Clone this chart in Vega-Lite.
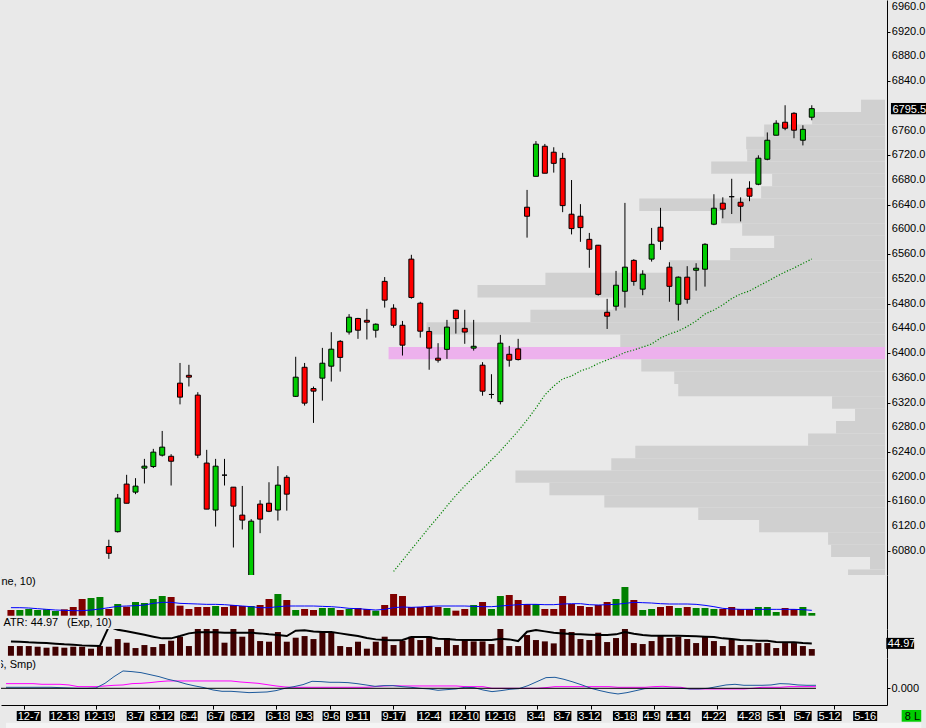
{
  "$schema": "https://vega.github.io/schema/vega-lite/v6.json",
  "padding": 0,
  "background": "#e9e9e9",
  "config": {
    "font": "Liberation Sans",
    "view": {"stroke": null},
    "axis": {"labelFont": "Liberation Sans", "labelFontSize": 11, "labelColor": "black", "domainColor": "black", "tickColor": "black", "grid": false}
  },
  "spacing": 0,
  "bounds": "flush",
  "datasets": {
    "bars": [
      {"i":0,"up":false,"vol":170,"vma":240,"tr":35.3,"atr":52.3,"b":0.006,"m":0.028},
      {"i":1,"up":true,"vol":170,"vma":240,"tr":35.3,"atr":51.1,"b":0.006,"m":0.028},
      {"i":2,"up":true,"vol":200,"vma":230,"tr":35.3,"atr":48.7,"b":0.006,"m":0.028},
      {"i":3,"up":true,"vol":170,"vma":210,"tr":32.9,"atr":47.5,"b":0.006,"m":0.028},
      {"i":4,"up":true,"vol":190,"vma":190,"tr":29.2,"atr":46.2,"b":0.006,"m":0.024},
      {"i":5,"up":true,"vol":140,"vma":170,"tr":32.9,"atr":43.8,"b":0.006,"m":0.024},
      {"i":6,"up":false,"vol":190,"vma":160,"tr":29.2,"atr":41.4,"b":0.004,"m":0.024},
      {"i":7,"up":false,"vol":260,"vma":150,"tr":32.9,"atr":40.2,"b":0.002,"m":0.02},
      {"i":8,"up":false,"vol":500,"vma":150,"tr":32.9,"atr":37.7,"b":0,"m":0.01},
      {"i":9,"up":true,"vol":530,"vma":170,"tr":25.6,"atr":36.5,"b":0,"m":0.01},
      {"i":10,"up":true,"vol":560,"vma":200,"tr":35.3,"atr":35.3,"b":0.002,"m":0.01},
      {"i":11,"up":false,"vol":200,"vma":240,"tr":32.9,"atr":106,"b":0.03,"m":0.014,"o":6087,"h":6098,"l":6067,"c":6076},
      {"i":12,"up":true,"vol":350,"vma":280,"tr":60.8,"atr":95,"b":0.07,"m":0.018,"o":6111,"h":6172,"l":6109.6,"c":6165.3},
      {"i":13,"up":false,"vol":270,"vma":290,"tr":47.5,"atr":89.6,"b":0.104,"m":0.02,"o":6188,"h":6203,"l":6157,"c":6157},
      {"i":14,"up":true,"vol":410,"vma":300,"tr":28,"atr":82.7,"b":0.1,"m":0.028,"o":6175,"h":6197.6,"l":6171.7,"c":6184.7},
      {"i":15,"up":true,"vol":380,"vma":320,"tr":38.9,"atr":76.2,"b":0.094,"m":0.03,"o":6213.8,"h":6228.8,"l":6189,"c":6217},
      {"i":16,"up":true,"vol":500,"vma":370,"tr":31.6,"atr":69.4,"b":0.082,"m":0.034,"o":6216.4,"h":6245,"l":6214,"c":6239.7},
      {"i":17,"up":true,"vol":590,"vma":400,"tr":42.6,"atr":63.3,"b":0.07,"m":0.04,"o":6234.8,"h":6274,"l":6232.6,"c":6247.8},
      {"i":18,"up":false,"vol":560,"vma":400,"tr":54.8,"atr":63.3,"b":0.054,"m":0.044,"o":6233,"h":6236.4,"l":6185.7,"c":6225},
      {"i":19,"up":false,"vol":300,"vma":370,"tr":69.4,"atr":71.8,"b":0.042,"m":0.044,"o":6351.3,"h":6384,"l":6317,"c":6328.7},
      {"i":20,"up":false,"vol":200,"vma":360,"tr":35.3,"atr":81.5,"b":0.026,"m":0.044,"o":6364,"h":6381,"l":6346,"c":6361},
      {"i":21,"up":false,"vol":260,"vma":350,"tr":131,"atr":85.2,"b":0.014,"m":0.044,"o":6332,"h":6336.7,"l":6230,"c":6234.8},
      {"i":22,"up":false,"vol":260,"vma":340,"tr":100,"atr":85.2,"b":0.004,"m":0.044,"o":6222,"h":6243.4,"l":6147.5,"c":6147.5},
      {"i":23,"up":true,"vol":290,"vma":340,"tr":110,"atr":85.2,"b":-0.01,"m":0.044,"o":6146,"h":6228.8,"l":6119.3,"c":6217},
      {"i":24,"up":false,"vol":260,"vma":330,"tr":47.5,"atr":84,"b":-0.018,"m":0.044,"o":6202.5,"h":6228.8,"l":6185.7,"c":6202.5},
      {"i":25,"up":false,"vol":320,"vma":310,"tr":117,"atr":84,"b":-0.018,"m":0.044,"o":6183,"h":6183,"l":6085.4,"c":6152.3},
      {"i":26,"up":false,"vol":290,"vma":290,"tr":69.4,"atr":84,"b":-0.022,"m":0.038,"o":6137.8,"h":6185,"l":6114.5,"c":6129.7},
      {"i":27,"up":true,"vol":290,"vma":270,"tr":105,"atr":84,"b":-0.026,"m":0.034,"o":6030,"h":6131.3,"l":6020,"c":6128},
      {"i":28,"up":false,"vol":320,"vma":240,"tr":53.5,"atr":81.5,"b":-0.024,"m":0.03,"o":6155.6,"h":6162,"l":6108.6,"c":6131.3},
      {"i":29,"up":false,"vol":500,"vma":240,"tr":51.1,"atr":77.9,"b":-0.022,"m":0.022,"o":6157,"h":6191,"l":6142.6,"c":6144},
      {"i":30,"up":true,"vol":650,"vma":270,"tr":86.4,"atr":75.4,"b":-0.014,"m":0.014,"o":6146,"h":6217,"l":6129,"c":6186.3},
      {"i":31,"up":false,"vol":470,"vma":290,"tr":51.1,"atr":71.8,"b":0,"m":0.008,"o":6199,"h":6202.5,"l":6145,"c":6171.7},
      {"i":32,"up":true,"vol":170,"vma":290,"tr":65.7,"atr":91.3,"b":0.01,"m":0.006,"o":6330,"h":6394,"l":6329,"c":6361},
      {"i":33,"up":false,"vol":200,"vma":290,"tr":71.8,"atr":92.5,"b":0.022,"m":0.006,"o":6377,"h":6384,"l":6315,"c":6319},
      {"i":34,"up":false,"vol":170,"vma":290,"tr":60.8,"atr":88.8,"b":0.042,"m":0.006,"o":6342.6,"h":6345.8,"l":6287,"c":6338.4},
      {"i":35,"up":true,"vol":230,"vma":280,"tr":86.4,"atr":86.4,"b":0.04,"m":0.006,"o":6359.4,"h":6408.4,"l":6323,"c":6383.6},
      {"i":36,"up":true,"vol":230,"vma":270,"tr":84,"atr":86.4,"b":0.036,"m":0.006,"o":6378.8,"h":6433.8,"l":6353.9,"c":6406.3},
      {"i":37,"up":false,"vol":170,"vma":250,"tr":35.3,"atr":81.5,"b":0.036,"m":0.006,"o":6419,"h":6421,"l":6370,"c":6393},
      {"i":38,"up":true,"vol":200,"vma":220,"tr":31.6,"atr":76.7,"b":0.034,"m":0.006,"o":6434,"h":6463,"l":6430,"c":6458},
      {"i":39,"up":false,"vol":230,"vma":210,"tr":51.1,"atr":71.8,"b":0.028,"m":0.006,"o":6456,"h":6457,"l":6423,"c":6437},
      {"i":40,"up":false,"vol":200,"vma":190,"tr":25.6,"atr":64.5,"b":0.02,"m":0.006,"o":6453,"h":6471.5,"l":6422,"c":6450},
      {"i":41,"up":true,"vol":150,"vma":170,"tr":51.1,"atr":59.6,"b":0.012,"m":0.01,"o":6437,"h":6448,"l":6425,"c":6446.7},
      {"i":42,"up":false,"vol":320,"vma":190,"tr":69.4,"atr":57.2,"b":0.016,"m":0.014,"o":6516,"h":6523,"l":6473.6,"c":6485.6},
      {"i":43,"up":false,"vol":650,"vma":240,"tr":38.9,"atr":56,"b":0.016,"m":0.016,"o":6472.6,"h":6479,"l":6441,"c":6445,"ma":6046.6},
      {"i":44,"up":false,"vol":590,"vma":260,"tr":54.8,"atr":57.2,"b":0.01,"m":0.014,"o":6445,"h":6452,"l":6396,"c":6412.8,"ma":6064.4},
      {"i":45,"up":false,"vol":260,"vma":250,"tr":69.4,"atr":68.1,"b":0.006,"m":0.014,"o":6552,"h":6559,"l":6488,"c":6490,"ma":6082.2},
      {"i":46,"up":false,"vol":260,"vma":260,"tr":57.2,"atr":68.1,"b":0,"m":0.014,"o":6480.7,"h":6483,"l":6425,"c":6435.4,"ma":6100},
      {"i":47,"up":false,"vol":290,"vma":280,"tr":69.4,"atr":68.1,"b":-0.004,"m":0.014,"o":6435,"h":6442,"l":6373,"c":6408,"ma":6117.8},
      {"i":48,"up":false,"vol":260,"vma":290,"tr":31.6,"atr":62,"b":-0.012,"m":0.014,"o":6391.7,"h":6416,"l":6384.6,"c":6388.5,"ma":6134.8},
      {"i":49,"up":true,"vol":230,"vma":290,"tr":64.5,"atr":60.8,"b":-0.008,"m":0.014,"o":6406,"h":6453.7,"l":6390.6,"c":6442,"ma":6152.6},
      {"i":50,"up":false,"vol":150,"vma":290,"tr":38.9,"atr":58.4,"b":-0.004,"m":0.014,"o":6469.4,"h":6470,"l":6431.5,"c":6455.8,"ma":6169.5},
      {"i":51,"up":false,"vol":200,"vma":290,"tr":57.2,"atr":57.2,"b":0.006,"m":0.01,"o":6440,"h":6470,"l":6415,"c":6434,"ma":6184.9},
      {"i":52,"up":true,"vol":320,"vma":280,"tr":52.3,"atr":57.2,"b":0.004,"m":0.01,"o":6408,"h":6453.7,"l":6404,"c":6411,"ma":6199.5},
      {"i":53,"up":false,"vol":410,"vma":270,"tr":52.3,"atr":57.2,"b":-0.01,"m":0.01,"o":6380.4,"h":6385.3,"l":6331,"c":6338.3,"ma":6212.4},
      {"i":54,"up":true,"vol":200,"vma":270,"tr":42.6,"atr":57.2,"b":-0.02,"m":0,"o":6333,"h":6365.8,"l":6326.4,"c":6333,"ma":6227},
      {"i":55,"up":true,"vol":590,"vma":290,"tr":112,"atr":62,"b":-0.014,"m":0,"o":6321.5,"h":6429.4,"l":6317,"c":6416,"ma":6241.6},
      {"i":56,"up":false,"vol":620,"vma":310,"tr":35.3,"atr":59.6,"b":-0.006,"m":0,"o":6398,"h":6411.6,"l":6378,"c":6388.5,"ma":6257.7},
      {"i":57,"up":false,"vol":470,"vma":330,"tr":35.3,"atr":53.5,"b":-0.002,"m":0,"o":6406.8,"h":6423,"l":6388,"c":6389.5,"ma":6273.9},
      {"i":58,"up":false,"vol":350,"vma":340,"tr":75.4,"atr":87.6,"b":0.016,"m":0,"o":6636,"h":6664,"l":6586.8,"c":6621.4,"ma":6291.7},
      {"i":59,"up":true,"vol":350,"vma":340,"tr":57.2,"atr":93.7,"b":0.04,"m":0,"o":6686,"h":6743,"l":6686,"c":6738,"ma":6311.1},
      {"i":60,"up":false,"vol":200,"vma":330,"tr":52.3,"atr":88.8,"b":0.064,"m":0.004,"o":6734.7,"h":6738.4,"l":6691,"c":6691,"ma":6332.2},
      {"i":61,"up":false,"vol":200,"vma":330,"tr":45,"atr":84,"b":0.066,"m":0.01,"o":6725,"h":6733,"l":6692,"c":6707,"ma":6346.7},
      {"i":62,"up":false,"vol":590,"vma":350,"tr":100,"atr":81.5,"b":0.054,"m":0.01,"o":6715,"h":6724,"l":6628,"c":6638.6,"ma":6358.1},
      {"i":63,"up":false,"vol":350,"vma":360,"tr":86.4,"atr":79.1,"b":0.038,"m":0.01,"o":6624.7,"h":6680,"l":6592,"c":6601.4,"ma":6362.9},
      {"i":64,"up":false,"vol":290,"vma":360,"tr":60.8,"atr":77.9,"b":0.02,"m":0.01,"o":6621.4,"h":6641,"l":6580,"c":6603,"ma":6371},
      {"i":65,"up":false,"vol":260,"vma":330,"tr":57.2,"atr":76.7,"b":0,"m":0.01,"o":6584,"h":6594.4,"l":6538,"c":6568,"ma":6375.9},
      {"i":66,"up":false,"vol":320,"vma":320,"tr":84,"atr":75.4,"b":-0.014,"m":0.01,"o":6574.5,"h":6575,"l":6493,"c":6495,"ma":6383.1},
      {"i":67,"up":false,"vol":410,"vma":330,"tr":49.9,"atr":75.4,"b":-0.026,"m":0.01,"o":6466,"h":6487.7,"l":6439,"c":6459.7,"ma":6388.8},
      {"i":68,"up":true,"vol":500,"vma":340,"tr":64.5,"atr":77.9,"b":-0.034,"m":0.006,"o":6475.8,"h":6533,"l":6468.7,"c":6509.8,"ma":6394.5},
      {"i":69,"up":true,"vol":860,"vma":370,"tr":169,"atr":86.4,"b":-0.026,"m":0.006,"o":6500,"h":6643,"l":6473.6,"c":6539,"ma":6400.9},
      {"i":70,"up":false,"vol":470,"vma":400,"tr":46.2,"atr":80.3,"b":-0.014,"m":0.006,"o":6550,"h":6552,"l":6509,"c":6516,"ma":6405},
      {"i":71,"up":true,"vol":170,"vma":390,"tr":42.6,"atr":75.4,"b":-0.002,"m":0.006,"o":6503.4,"h":6534,"l":6493.6,"c":6527.6,"ma":6409.8},
      {"i":72,"up":true,"vol":200,"vma":380,"tr":53.5,"atr":73,"b":0,"m":0.01,"o":6552,"h":6602.5,"l":6548,"c":6576,"ma":6414.7},
      {"i":73,"up":false,"vol":260,"vma":360,"tr":71.8,"atr":73,"b":0,"m":0.012,"o":6603.6,"h":6635,"l":6567,"c":6581,"ma":6424.4},
      {"i":74,"up":false,"vol":290,"vma":350,"tr":64.5,"atr":73,"b":0,"m":0.008,"o":6539,"h":6547,"l":6483,"c":6508,"ma":6430.9},
      {"i":75,"up":true,"vol":230,"vma":350,"tr":69.4,"atr":73,"b":0,"m":0.006,"o":6479,"h":6524,"l":6452.6,"c":6522.8,"ma":6435.7},
      {"i":76,"up":false,"vol":260,"vma":350,"tr":60.8,"atr":71.8,"b":-0.004,"m":-0.004,"o":6522.8,"h":6540.6,"l":6480,"c":6487,"ma":6443},
      {"i":77,"up":true,"vol":230,"vma":340,"tr":46.2,"atr":70.6,"b":-0.004,"m":-0.004,"o":6534,"h":6545.4,"l":6501,"c":6537.3,"ma":6451.9},
      {"i":78,"up":true,"vol":230,"vma":310,"tr":69.4,"atr":69.4,"b":0,"m":-0.004,"o":6535.7,"h":6577.8,"l":6507.5,"c":6576,"ma":6463.2},
      {"i":79,"up":true,"vol":200,"vma":270,"tr":53.5,"atr":68.1,"b":0.01,"m":-0.004,"o":6608.5,"h":6657,"l":6607,"c":6634.4,"ma":6469.7},
      {"i":80,"up":false,"vol":200,"vma":220,"tr":35.3,"atr":63.3,"b":0.02,"m":-0.004,"o":6642.5,"h":6652,"l":6618,"c":6632.8,"ma":6477.8},
      {"i":81,"up":false,"vol":260,"vma":200,"tr":60.8,"atr":60.8,"b":0.024,"m":-0.004,"o":6653,"h":6682,"l":6625,"c":6653,"ma":6488.3},
      {"i":82,"up":false,"vol":200,"vma":190,"tr":38.9,"atr":57.2,"b":0.018,"m":-0.004,"o":6644,"h":6652,"l":6613,"c":6637.6,"ma":6495.6},
      {"i":83,"up":false,"vol":200,"vma":190,"tr":38.9,"atr":56,"b":0.018,"m":0,"o":6666.7,"h":6678,"l":6645.7,"c":6653.8,"ma":6500.5},
      {"i":84,"up":true,"vol":260,"vma":190,"tr":46.2,"atr":54.8,"b":0.018,"m":0.006,"o":6673.2,"h":6720,"l":6671.6,"c":6715.3,"ma":6508.5},
      {"i":85,"up":true,"vol":260,"vma":190,"tr":46.2,"atr":54.8,"b":0.02,"m":0.006,"o":6713.6,"h":6757,"l":6712,"c":6744.4,"ma":6515.8},
      {"i":86,"up":true,"vol":110,"vma":190,"tr":28,"atr":49.9,"b":0.028,"m":0.006,"o":6752.5,"h":6776.7,"l":6752.5,"c":6771.9,"ma":6523.9},
      {"i":87,"up":false,"vol":230,"vma":190,"tr":46.2,"atr":48.7,"b":0.026,"m":0.01,"o":6773.5,"h":6801,"l":6760.6,"c":6763.8,"ma":6531.2},
      {"i":88,"up":false,"vol":200,"vma":190,"tr":46.2,"atr":48.7,"b":0.02,"m":0.01,"o":6788,"h":6789.7,"l":6747.6,"c":6760.6,"ma":6537.7},
      {"i":89,"up":true,"vol":260,"vma":180,"tr":35.3,"atr":46.2,"b":0.018,"m":0.01,"o":6744.4,"h":6768.6,"l":6736,"c":6762,"ma":6545},
      {"i":90,"up":true,"vol":80,"vma":160,"tr":24.3,"atr":44.97,"b":0.018,"m":0.01,"o":6781.6,"h":6801,"l":6776.7,"c":6795.5,"ma":6552.2}
    ],
    "profile": [
      {"lo":6790,"hi":6810,"pv":240},{"lo":6770,"hi":6790,"pv":730},{"lo":6750,"hi":6770,"pv":1210},
      {"lo":6730,"hi":6750,"pv":1390},{"lo":6710,"hi":6730,"pv":1380},{"lo":6690,"hi":6710,"pv":1740},
      {"lo":6670,"hi":6690,"pv":1130},{"lo":6650,"hi":6670,"pv":1240},{"lo":6630,"hi":6650,"pv":2460},
      {"lo":6610,"hi":6630,"pv":1640},{"lo":6590,"hi":6610,"pv":1430},{"lo":6570,"hi":6590,"pv":1110},
      {"lo":6550,"hi":6570,"pv":1550},{"lo":6530,"hi":6550,"pv":2160},{"lo":6510,"hi":6530,"pv":3400},
      {"lo":6490,"hi":6510,"pv":4080},{"lo":6470,"hi":6490,"pv":2720},{"lo":6450,"hi":6470,"pv":3550},
      {"lo":6430,"hi":6450,"pv":4590},{"lo":6410,"hi":6430,"pv":2650},{"lo":6390,"hi":6410,"pv":4970},
      {"lo":6370,"hi":6390,"pv":2440},{"lo":6350,"hi":6370,"pv":2110},{"lo":6330,"hi":6350,"pv":2070},
      {"lo":6310,"hi":6330,"pv":530},{"lo":6290,"hi":6310,"pv":300},{"lo":6270,"hi":6290,"pv":490},
      {"lo":6250,"hi":6270,"pv":770},{"lo":6230,"hi":6250,"pv":2500},{"lo":6210,"hi":6230,"pv":2740},
      {"lo":6190,"hi":6210,"pv":3700},{"lo":6170,"hi":6190,"pv":3360},{"lo":6150,"hi":6170,"pv":2810},
      {"lo":6130,"hi":6150,"pv":1870},{"lo":6110,"hi":6130,"pv":1260},{"lo":6090,"hi":6110,"pv":570},
      {"lo":6070,"hi":6090,"pv":540},{"lo":6050,"hi":6070,"pv":150},{"lo":6030,"hi":6050,"pv":370}
    ],
    "plabels": [
      {"v":6080},{"v":6120},{"v":6160},{"v":6200},{"v":6240},{"v":6280},{"v":6320},{"v":6360},
      {"v":6400},{"v":6440},{"v":6480},{"v":6520},{"v":6560},{"v":6600},{"v":6640},{"v":6680},
      {"v":6720},{"v":6760},{"v":6840},{"v":6880},{"v":6920},{"v":6960}
    ],
    "ticks": [
      {"i":2,"lab":"12-7"},{"i":6,"lab":"12-13"},{"i":10,"lab":"12-19"},{"i":14,"lab":"3-7"},
      {"i":17,"lab":"3-12"},{"i":20,"lab":"6-4"},{"i":23,"lab":"6-7"},{"i":26,"lab":"6-12"},
      {"i":30,"lab":"6-18"},{"i":33,"lab":"9-3"},{"i":36,"lab":"9-6"},{"i":39,"lab":"9-11"},
      {"i":43,"lab":"9-17"},{"i":47,"lab":"12-4"},{"i":51,"lab":"12-10"},{"i":55,"lab":"12-16"},
      {"i":59,"lab":"3-4"},{"i":62,"lab":"3-7"},{"i":65,"lab":"3-12"},{"i":69,"lab":"3-18"},
      {"i":72,"lab":"4-9"},{"i":75,"lab":"4-14"},{"i":79,"lab":"4-22"},{"i":83,"lab":"4-28"},
      {"i":86,"lab":"5-1"},{"i":89,"lab":"5-7"},{"i":92,"lab":"5-12"},{"i":96,"lab":"5-16"}
    ],
    "notes": [
      {"t":"Volume (Line, 10)","x":2.78,"y":1020,"al":"right"},
      {"t":"ATR: 44.97","x":-0.85,"y":-228,"al":"left"},
      {"t":"(Exp, 10)","x":6.3,"y":-228,"al":"left"}
    ]
  },
  "vconcat": [
    {
      "width": 886,
      "height": 575,
      "layer": [
        {
          "data": {"name": "profile"},
          "mark": {"type": "rect", "clip": true},
          "encoding": {
            "x": {"field": "pv", "type": "quantitative", "scale": {"domain": [-20, 8850], "reverse": true}, "axis": null},
            "x2": {"datum": 0},
            "y": {
              "field": "lo", "type": "quantitative",
              "scale": {"domain": [6040.9, 6971.3]},
              "axis": {
                "orient": "right", "title": null, "labels": false,
                "values": [6080, 6120, 6160, 6200, 6240, 6280, 6320, 6360, 6400, 6440, 6480, 6520, 6560, 6600, 6640, 6680, 6720, 6760, 6840, 6880, 6920, 6960],
                "tickSize": 3
              }
            },
            "y2": {"field": "hi"},
            "color": {"condition": {"test": "datum.lo == 6390", "value": "#edb1ed"}, "value": "#d0d0d0"}
          }
        },
        {
          "data": {"name": "bars"},
          "transform": [{"filter": "isValid(datum.o)"}],
          "encoding": {
            "x": {"field": "i", "type": "quantitative", "scale": {"domain": [-0.556, 97.89]}, "axis": null}
          },
          "layer": [
            {
              "transform": [{"filter": "isValid(datum.ma)"}],
              "mark": {"type": "line", "clip": true, "color": "#008000", "strokeWidth": 1.2, "strokeDash": [1.2, 1.8]},
              "encoding": {"y": {"field": "ma", "type": "quantitative", "scale": {"domain": [6040.9, 6971.3]}}}
            },
            {
              "mark": {"type": "rule", "clip": true, "color": "black", "strokeWidth": 1},
              "encoding": {
                "y": {"field": "l", "type": "quantitative", "scale": {"domain": [6040.9, 6971.3]}},
                "y2": {"field": "h"}
              }
            },
            {
              "mark": {"type": "bar", "clip": true, "width": 5, "stroke": "black", "strokeWidth": 1},
              "encoding": {
                "y": {"field": "o", "type": "quantitative", "scale": {"domain": [6040.9, 6971.3]}},
                "y2": {"field": "c"},
                "fill": {
                  "condition": [
                    {"test": "datum.c > datum.o", "value": "#00cc00"},
                    {"test": "datum.c < datum.o", "value": "#ff0000"}
                  ],
                  "value": "black"
                }
              }
            }
          ]
        },
        {
          "data": {"name": "plabels"},
          "mark": {"type": "text", "align": "left", "baseline": "middle", "color": "black", "fontSize": 11, "clip": false},
          "encoding": {
            "x": {"datum": 98.42, "type": "quantitative", "scale": {"domain": [-0.556, 97.89]}, "axis": null},
            "y": {"field": "v", "type": "quantitative", "scale": {"domain": [6040.9, 6971.3]}},
            "text": {"field": "v", "type": "quantitative", "format": ".1f"}
          }
        },
        {
          "data": {"values": [{"p": 6795.5}]},
          "layer": [
            {
              "mark": {"type": "rect", "color": "black", "clip": false},
              "encoding": {
                "x": {"datum": 98.33, "type": "quantitative", "scale": {"domain": [-0.556, 97.89]}, "axis": null},
                "x2": {"datum": 102.3},
                "y": {"datum": 6786.5, "type": "quantitative", "scale": {"domain": [6040.9, 6971.3]}},
                "y2": {"datum": 6804.5}
              }
            },
            {
              "mark": {"type": "text", "align": "left", "baseline": "middle", "color": "white", "fontSize": 11, "dy": 1.5, "clip": false},
              "encoding": {
                "x": {"datum": 98.5, "type": "quantitative", "scale": {"domain": [-0.556, 97.89]}, "axis": null},
                "y": {"field": "p", "type": "quantitative", "scale": {"domain": [6040.9, 6971.3]}},
                "text": {"field": "p", "type": "quantitative", "format": ".1f"}
              }
            }
          ]
        }
      ],
      "resolve": {"scale": {"x": "independent"}}
    },
    {
      "width": 886,
      "height": 54,
      "layer": [
        {
          "data": {"name": "bars"},
          "mark": {"type": "bar", "width": 7},
          "encoding": {
            "x": {"field": "i", "type": "quantitative", "scale": {"domain": [-0.556, 97.89]}, "axis": null},
            "y": {"field": "vol", "type": "quantitative", "scale": {"domain": [-400, 1221]}, "axis": {"orient": "right", "labels": false, "ticks": false, "title": null}},
            "color": {"condition": {"test": "datum.up", "value": "#008000"}, "value": "#800000"}
          }
        },
        {
          "data": {"name": "bars"},
          "mark": {"type": "line", "color": "#0000ff", "strokeWidth": 1},
          "encoding": {
            "x": {"field": "i", "type": "quantitative", "scale": {"domain": [-0.556, 97.89]}, "axis": null},
            "y": {"field": "vma", "type": "quantitative", "scale": {"domain": [-400, 1221]}}
          }
        },
        {
          "data": {"name": "notes"},
          "mark": {"type": "text", "baseline": "middle", "fontSize": 11, "color": "black", "clip": true, "align": {"expr": "datum.al"}},
          "encoding": {
            "x": {"field": "x", "type": "quantitative", "scale": {"domain": [-0.556, 97.89]}, "axis": null},
            "y": {"field": "y", "type": "quantitative", "scale": {"domain": [-400, 1221]}},
            "text": {"field": "t"}
          }
        }
      ]
    },
    {
      "width": 886,
      "height": 29,
      "layer": [
        {
          "data": {"name": "bars"},
          "mark": {"type": "bar", "width": 6, "color": "#400000", "clip": true},
          "encoding": {
            "x": {"field": "i", "type": "quantitative", "scale": {"domain": [-0.556, 97.89]}, "axis": null},
            "y": {"field": "tr", "type": "quantitative", "scale": {"domain": [-8.4, 97.5]}, "axis": {"orient": "right", "labels": false, "ticks": false, "title": null}}
          }
        },
        {
          "data": {"name": "bars"},
          "mark": {"type": "line", "color": "black", "strokeWidth": 2, "clip": true},
          "encoding": {
            "x": {"field": "i", "type": "quantitative", "scale": {"domain": [-0.556, 97.89]}, "axis": null},
            "y": {"field": "atr", "type": "quantitative", "scale": {"domain": [-8.4, 97.5]}}
          }
        },
        {
          "data": {"values": [{"v": 44.97}]},
          "mark": {"type": "rect", "color": "black", "clip": false},
          "encoding": {
            "x": {"datum": 98.37, "type": "quantitative", "scale": {"domain": [-0.556, 97.89]}, "axis": null},
            "x2": {"datum": 101.5},
            "y": {"datum": 24.9, "type": "quantitative", "scale": {"domain": [-8.4, 97.5]}},
            "y2": {"datum": 65.1}
          }
        },
        {
          "data": {"values": [{"v": 44.97}]},
          "mark": {"type": "text", "align": "left", "baseline": "middle", "color": "white", "fontSize": 11, "clip": false, "dy": 0.5},
          "encoding": {
            "x": {"datum": 98.55, "type": "quantitative", "scale": {"domain": [-0.556, 97.89]}, "axis": null},
            "y": {"field": "v", "type": "quantitative", "scale": {"domain": [-8.4, 97.5]}},
            "text": {"field": "v", "type": "quantitative", "format": ".2f"}
          }
        }
      ]
    },
    {
      "width": 886,
      "height": 47,
      "layer": [
        {
          "data": {"name": "bars"},
          "mark": {"type": "line", "color": "#ff00ff", "strokeWidth": 1},
          "encoding": {
            "x": {
              "field": "i", "type": "quantitative", "scale": {"domain": [-0.556, 97.89]},
              "axis": {"orient": "bottom", "title": null, "values": [2, 6, 10, 14, 17, 20, 23, 26, 30, 33, 36, 39, 43, 47, 51, 55, 59, 62, 65, 69, 72, 75, 79, 83, 86, 89, 92, 96], "labels": false, "tickSize": 4}
            },
            "y": {"field": "m", "type": "quantitative", "scale": {"domain": [-0.1002, 0.1818]}, "axis": {"orient": "right", "title": null, "values": [0], "format": ".3f", "tickSize": 3, "labelPadding": 1}}
          }
        },
        {
          "data": {"name": "bars"},
          "mark": {"type": "line", "color": "#1d5a9c", "strokeWidth": 1},
          "encoding": {
            "x": {"field": "i", "type": "quantitative", "scale": {"domain": [-0.556, 97.89]}},
            "y": {"field": "b", "type": "quantitative", "scale": {"domain": [-0.1002, 0.1818]}}
          }
        },
        {
          "data": {"values": [{"x1": -0.556, "x2": 90, "z": 0}]},
          "mark": {"type": "rule", "color": "black", "strokeWidth": 1},
          "encoding": {
            "x": {"field": "x1", "type": "quantitative", "scale": {"domain": [-0.556, 97.89]}},
            "x2": {"field": "x2"},
            "y": {"field": "z", "type": "quantitative", "scale": {"domain": [-0.1002, 0.1818]}}
          }
        },
        {
          "data": {"values": [{"t": "(3, 10, 16, Smp)", "x": 3.33, "y": 0.14}]},
          "mark": {"type": "text", "align": "right", "baseline": "middle", "fontSize": 11, "color": "black", "clip": true},
          "encoding": {
            "x": {"field": "x", "type": "quantitative", "scale": {"domain": [-0.556, 97.89]}},
            "y": {"field": "y", "type": "quantitative", "scale": {"domain": [-0.1002, 0.1818]}},
            "text": {"field": "t"}
          }
        }
      ]
    },
    {
      "width": 886,
      "height": 23,
      "layer": [
        {
          "data": {"values": [{"a": 0}]},
          "mark": {"type": "rect", "color": "#f4f4f4", "clip": false},
          "encoding": {
            "x": {"datum": -0.556, "type": "quantitative", "scale": {"domain": [-0.556, 97.89]}, "axis": null},
            "x2": {"datum": 102.3},
            "y": {"datum": 17.7, "type": "quantitative", "scale": {"domain": [0, 23], "reverse": true}, "axis": null},
            "y2": {"datum": 23}
          }
        },
        {
          "data": {"name": "ticks"},
          "layer": [
            {
              "mark": {"type": "bar", "color": "black"},
              "encoding": {
                "x": {"field": "i", "type": "quantitative", "scale": {"domain": [-0.556, 97.89]}, "axis": null},
                "y": {"datum": 6, "type": "quantitative", "scale": {"domain": [0, 23], "reverse": true}, "axis": null},
                "y2": {"datum": 16},
                "size": {
                  "condition": [
                    {"test": "length(datum.lab) <= 3", "value": 17.5},
                    {"test": "length(datum.lab) >= 5", "value": 30}
                  ],
                  "value": 24
                }
              }
            },
            {
              "mark": {"type": "text", "color": "white", "fontSize": 11, "align": "center", "baseline": "middle", "dy": 0.5},
              "encoding": {
                "x": {"field": "i", "type": "quantitative", "scale": {"domain": [-0.556, 97.89]}, "axis": null},
                "y": {"datum": 11, "type": "quantitative", "scale": {"domain": [0, 23], "reverse": true}, "axis": null},
                "text": {"field": "lab"}
              }
            }
          ]
        },
        {
          "data": {"values": [{"t": "8 L"}]},
          "layer": [
            {
              "mark": {"type": "rect", "color": "#00cc00", "clip": false},
              "encoding": {
                "x": {"datum": 100.1, "type": "quantitative", "scale": {"domain": [-0.556, 97.89]}, "axis": null},
                "x2": {"datum": 102.3},
                "y": {"datum": 5, "type": "quantitative", "scale": {"domain": [0, 23], "reverse": true}, "axis": null},
                "y2": {"datum": 16.7}
              }
            },
            {
              "mark": {"type": "text", "color": "black", "fontSize": 11, "align": "left", "baseline": "middle", "clip": false, "dy": 0.5},
              "encoding": {
                "x": {"datum": 100.45, "type": "quantitative", "scale": {"domain": [-0.556, 97.89]}, "axis": null},
                "y": {"datum": 11, "type": "quantitative", "scale": {"domain": [0, 23], "reverse": true}, "axis": null},
                "text": {"field": "t"}
              }
            }
          ]
        }
      ]
    }
  ],
  "resolve": {"scale": {"x": "independent", "y": "independent"}}
}
